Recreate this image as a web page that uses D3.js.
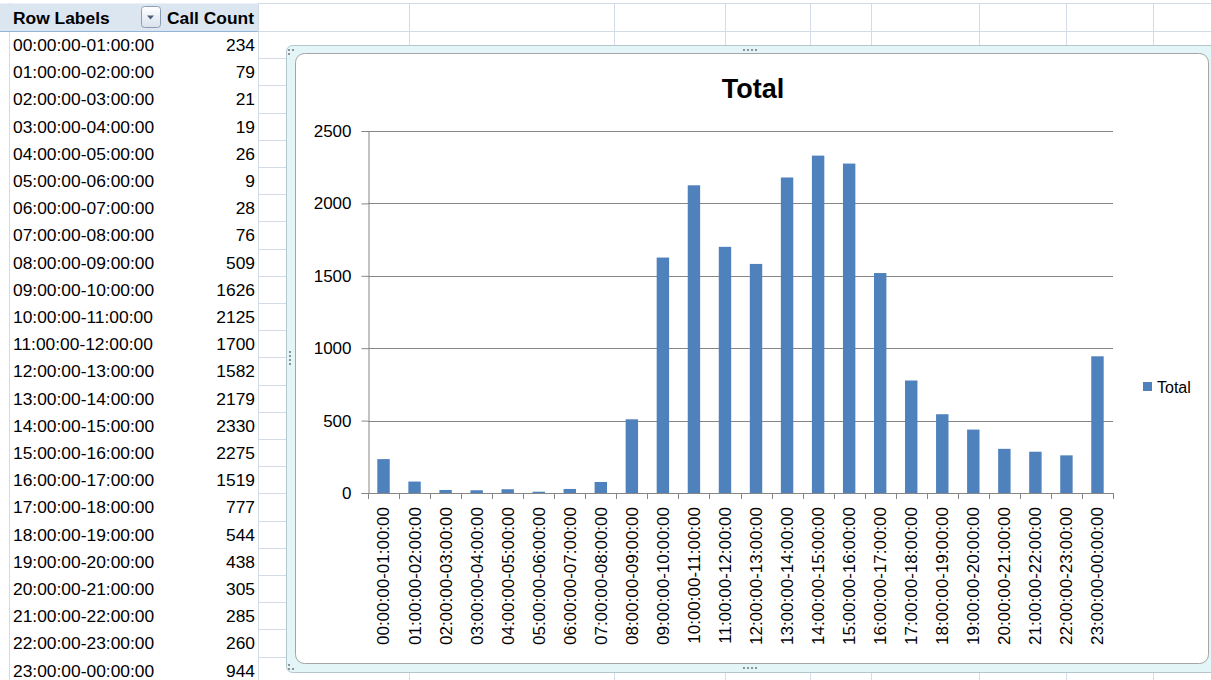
<!DOCTYPE html>
<html>
<head>
<meta charset="utf-8">
<script src="https://cdn.jsdelivr.net/npm/d3@7/dist/d3.min.js"></script>
<style>
  html, body { margin: 0; padding: 0; background: #fff; }
  svg { display: block; font-family: "Liberation Sans", Arial, sans-serif; }
</style>
</head>
<body>
<svg id="sheet" width="1211" height="680"></svg>
<script>
// ---- data ----
const categories = [
  '00:00:00-01:00:00', '01:00:00-02:00:00', '02:00:00-03:00:00', '03:00:00-04:00:00',
  '04:00:00-05:00:00', '05:00:00-06:00:00', '06:00:00-07:00:00', '07:00:00-08:00:00',
  '08:00:00-09:00:00', '09:00:00-10:00:00', '10:00:00-11:00:00', '11:00:00-12:00:00',
  '12:00:00-13:00:00', '13:00:00-14:00:00', '14:00:00-15:00:00', '15:00:00-16:00:00',
  '16:00:00-17:00:00', '17:00:00-18:00:00', '18:00:00-19:00:00', '19:00:00-20:00:00',
  '20:00:00-21:00:00', '21:00:00-22:00:00', '22:00:00-23:00:00', '23:00:00-00:00:00'
]
const callCounts = [234, 79, 21, 19, 26, 9, 28, 76, 509, 1626, 2125, 1700,
  1582, 2179, 2330, 2275, 1519, 777, 544, 438, 305, 285, 260, 944]
const yTicks = [0, 500, 1000, 1500, 2000, 2500]
const seriesName = 'Total'
const headers = ['Row Labels', 'Call Count']

const W = 1211, H = 680
const gridColor = '#d4dbe8'
const barColor = '#4f81bd'
const tableFont = 17.4
const chartFont = 17

const svg = d3.select('#sheet')

/* --------- SPREADSHEET GRID ---------*/
const rowTop = 3, headerBottom = 31, rowH = 27.2
const colLines = [9, 258, 409, 614, 725, 810, 871, 979, 1066, 1153]
const grid = svg.append('g').attr('class', 'grid')
const rowLines = d3.range(0, 26).map(i => i === 0 ? rowTop : headerBottom + (i - 1) * rowH)
grid.selectAll('line.row').data(rowLines).enter().append('line')
  .attr('class', 'row')
  .attr('x1', 258).attr('x2', W)
  .attr('y1', d => Math.round(d) + 0.5).attr('y2', d => Math.round(d) + 0.5)
  .attr('stroke', gridColor)
grid.selectAll('line.col').data(colLines).enter().append('line')
  .attr('class', 'col')
  .attr('x1', d => d + 0.5).attr('x2', d => d + 0.5)
  .attr('y1', rowTop).attr('y2', H)
  .attr('stroke', gridColor)

/* --------- PIVOT TABLE ---------*/
const pivot = svg.append('g').attr('class', 'pivot')
pivot.append('rect')
  .attr('x', 0).attr('y', rowTop + 0.5).attr('width', 258).attr('height', headerBottom - rowTop)
  .attr('fill', '#dce6f1')
pivot.append('line')
  .attr('x1', 0).attr('x2', 258).attr('y1', headerBottom + 0.5).attr('y2', headerBottom + 0.5)
  .attr('stroke', '#95b3d7')
pivot.append('text')
  .attr('x', 13).attr('y', 23.5)
  .attr('font-size', tableFont).attr('font-weight', 'bold').attr('fill', '#000')
  .text(headers[0])
pivot.append('text')
  .attr('x', 254).attr('y', 23.5).attr('text-anchor', 'end')
  .attr('font-size', tableFont).attr('font-weight', 'bold').attr('fill', '#000')
  .text(headers[1])

// dropdown button
const grad = svg.append('defs').append('linearGradient')
  .attr('id', 'btn').attr('x1', 0).attr('x2', 0).attr('y1', 0).attr('y2', 1)
grad.append('stop').attr('offset', 0).attr('stop-color', '#ffffff')
grad.append('stop').attr('offset', 1).attr('stop-color', '#d9e1ec')
pivot.append('rect')
  .attr('x', 141.5).attr('y', 6.5).attr('width', 19).attr('height', 21).attr('rx', 3)
  .attr('fill', 'url(#btn)').attr('stroke', '#8d9db5')
pivot.append('path')
  .attr('d', 'M147,15.5 L154,15.5 L150.5,19.5 Z')
  .attr('fill', '#4a5e7e')

const rows = pivot.selectAll('g.prow').data(categories).enter().append('g')
  .attr('class', 'prow')
  .attr('transform', (d, i) => `translate(0,${headerBottom + i * rowH})`)
rows.append('text')
  .attr('x', 13).attr('y', 20)
  .attr('font-size', tableFont).attr('fill', '#000')
  .text(d => d)
rows.append('text')
  .attr('x', 255).attr('y', 20).attr('text-anchor', 'end')
  .attr('font-size', tableFont).attr('fill', '#000')
  .text((d, i) => callCounts[i])

/* --------- CHART FRAME ---------*/
const frame = svg.append('g').attr('class', 'frame')
frame.append('rect')
  .attr('x', 286.5).attr('y', 45.5).attr('width', 960).attr('height', 627).attr('rx', 6)
  .attr('fill', '#e4f5f8').attr('stroke', '#b3c6cb')
frame.append('rect')
  .attr('x', 295.5).attr('y', 53.5).attr('width', 913).attr('height', 610).attr('rx', 9)
  .attr('fill', '#fff').attr('stroke', '#a5a5a5')

const dots = []
;[743, 747, 751, 755].forEach(x => { dots.push([x, 49]); dots.push([x, 667]) })
;[351, 355, 359, 363].forEach(y => dots.push([289, y]))
;[[288, 49], [292, 49], [288, 53], [288, 664], [288, 668], [292, 668]].forEach(p => dots.push(p))
frame.selectAll('rect.dot').data(dots).enter().append('rect')
  .attr('class', 'dot')
  .attr('x', d => d[0]).attr('y', d => d[1]).attr('width', 2).attr('height', 2)
  .attr('fill', '#8c9496')

/* --------- CHART ---------*/
const plot = { left: 368, right: 1113, top: 131, bottom: 493 }
const x = d3.scaleBand()
  .domain(categories)
  .range([plot.left, plot.right])
  .paddingInner(0.6)
  .paddingOuter(0.3)
const y = d3.scaleLinear()
  .domain([0, 2500])
  .range([plot.bottom, plot.top])

const chart = svg.append('g').attr('class', 'chart')
const axisColor = '#868686'

chart.append('text')
  .attr('x', 753).attr('y', 98).attr('text-anchor', 'middle')
  .attr('font-size', 27).attr('font-weight', 'bold').attr('fill', '#000')
  .text(seriesName)

// gridlines
chart.selectAll('line.gridline').data(yTicks.filter(t => t > 0)).enter().append('line')
  .attr('class', 'gridline')
  .attr('x1', plot.left).attr('x2', plot.right)
  .attr('y1', d => Math.round(y(d)) + 0.5).attr('y2', d => Math.round(y(d)) + 0.5)
  .attr('stroke', axisColor)

// y axis
const yAxis = chart.append('g')
  .attr('transform', `translate(${plot.left + 0.5},0)`)
  .call(d3.axisLeft(y).tickValues(yTicks).tickSize(7).tickPadding(10).tickFormat(d3.format('d')))
yAxis.select('.domain').attr('stroke', axisColor)
yAxis.selectAll('.tick line').attr('stroke', axisColor)
yAxis.selectAll('.tick text')
  .attr('font-family', '"Liberation Sans", Arial, sans-serif')
  .attr('font-size', chartFont).attr('fill', '#000')

// bars
chart.selectAll('rect.bar').data(categories).enter().append('rect')
  .attr('class', 'bar')
  .attr('x', d => x(d))
  .attr('width', x.bandwidth())
  .attr('y', (d, i) => y(callCounts[i]))
  .attr('height', (d, i) => y(0) - y(callCounts[i]))
  .attr('fill', barColor)

// x axis
const bounds = categories.map(c => x(c) - (x.step() - x.bandwidth()) / 2)
bounds.push(plot.right)
chart.append('line')
  .attr('x1', plot.left).attr('x2', plot.right)
  .attr('y1', Math.round(y(0)) + 0.5).attr('y2', Math.round(y(0)) + 0.5)
  .attr('stroke', axisColor)
chart.selectAll('line.xtick').data(bounds).enter().append('line')
  .attr('class', 'xtick')
  .attr('x1', d => Math.round(d) + 0.5).attr('x2', d => Math.round(d) + 0.5)
  .attr('y1', Math.round(y(0))).attr('y2', Math.round(y(0)) + 6)
  .attr('stroke', axisColor)
chart.selectAll('text.xlabel').data(categories).enter().append('text')
  .attr('class', 'xlabel')
  .attr('transform', d => `translate(${x(d) + x.bandwidth() / 2},507) rotate(-90)`)
  .attr('text-anchor', 'end')
  .attr('dy', '0.35em')
  .attr('font-size', chartFont).attr('fill', '#000')
  .text(d => d)

// legend
const legend = chart.append('g').attr('transform', 'translate(1143,382)')
legend.append('rect').attr('width', 9).attr('height', 9).attr('fill', barColor)
legend.append('text')
  .attr('x', 14).attr('y', 10.5)
  .attr('font-size', 16).attr('fill', '#000')
  .text(seriesName)
</script>
</body>
</html>
